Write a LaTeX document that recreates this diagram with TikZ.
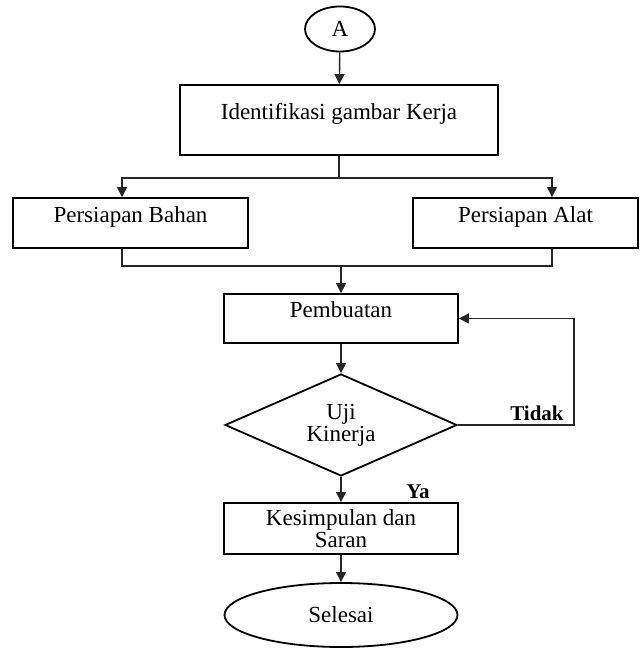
\documentclass[tikz,border=0pt]{standalone}
\usepackage{fontspec}
\setmainfont{Liberation Serif}
\usetikzlibrary{shapes.geometric,arrows.meta}

\begin{document}
\begin{tikzpicture}[x=0.5pt,y=-0.5pt,
	font=\fontsize{11.5}{14}\selectfont,
	box/.style={rectangle,draw,line width=0.9pt,inner sep=2pt,text height=7.5pt,text depth=8.3pt},
	flat/.style={rectangle,draw,line width=0.9pt,inner sep=2pt,align=center,font=\fontsize{11.5}{10}\selectfont},
	oval/.style={ellipse,draw,line width=0.9pt,inner sep=0pt},
	arr/.style={-{Triangle[width=5pt,length=5pt]},line width=0.7pt,draw=black!85},
	lin/.style={line width=0.7pt,draw=black!85},
	tag/.style={font=\fontsize{10.5}{12}\selectfont\bfseries}]

	\useasboundingbox (0,0) rectangle (639,656);

	% boxes
	\node[oval,minimum width=35pt,minimum height=22.5pt] (a) at (340,29) {A};
	\node[box,minimum width=159pt,minimum height=35pt] (ident) at (339,120) {Identifikasi gambar Kerja};
	\node[box,minimum width=117.5pt,minimum height=25pt] (bahan) at (130.5,223) {Persiapan Bahan};
	\node[box,minimum width=112.5pt,minimum height=25pt] (alat) at (525.5,223) {Persiapan Alat};
	\node[box,minimum width=117pt,minimum height=24.5pt] (pemb) at (341,318.5) {Pembuatan};
	\node[diamond,draw,line width=0.9pt,aspect=2.27,inner sep=0pt,minimum width=116pt,minimum height=51pt,
		align=center,font=\fontsize{11.5}{11}\selectfont] (uji) at (341,425) {Uji\\Kinerja};
	\node[flat,minimum width=117pt,minimum height=25.5pt] (kes) at (341,528.5) {Kesimpulan dan\\Saran};
	\node[oval,minimum width=116.5pt,minimum height=32pt] (end) at (341,615) {Selesai};

	% labels
	\node[tag] (tidak) at (537,413) {Tidak};
	\node[tag] (ya) at (418,492) {Ya};

	% connectors
	\draw[arr] (a) -- (ident);
	\draw[lin] (ident.south) -- ++(0,22) coordinate (split);
	\draw[arr] (split) -| ([xshift=-4.25pt]bahan.north);
	\draw[arr] (split) -| ([xshift=13.25pt]alat.north);
	\draw[lin] ([xshift=-4.25pt]bahan.south) -- ++(0,17) coordinate (merge) -| ([xshift=13.25pt]alat.south);
	\draw[arr] (merge -| pemb.north) -- (pemb.north);
	\draw[arr] (pemb) -- (uji);
	\draw[arr] (uji.east) -- ++(116,0) |- (pemb.east);
	\draw[arr] (uji) -- (kes);
	\draw[arr] (kes) -- (end);

\end{tikzpicture}
\end{document}
